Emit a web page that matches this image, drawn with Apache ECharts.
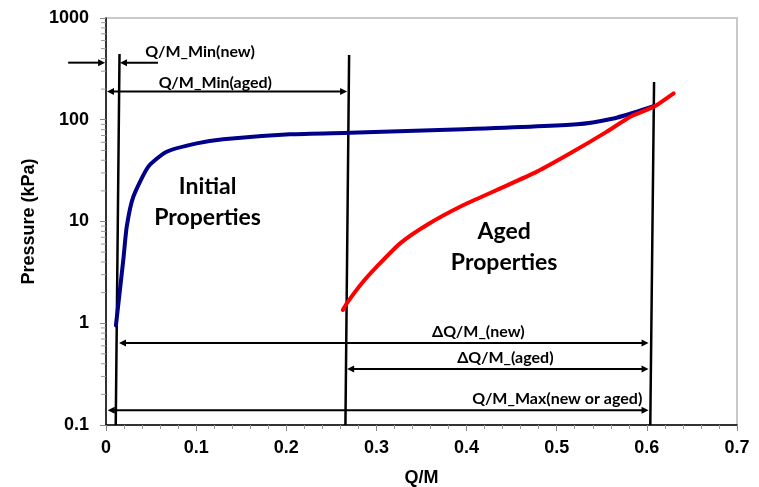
<!DOCTYPE html>
<html>
<head>
<meta charset="utf-8">
<script src="https://cdn.jsdelivr.net/npm/echarts@6/dist/echarts.min.js"></script>
<style>
  html, body { margin: 0; padding: 0; background: #fff; }
  #chart { width: 759px; height: 487px; }
</style>
</head>
<body>
<div id="chart"></div>
<script>
// Initial (new) properties: pressure vs Q/M
const initialQM = [0.011, 0.0192, 0.023, 0.0303, 0.047, 0.0673, 0.1007, 0.130, 0.204, 0.271, 0.3966, 0.5224, 0.563, 0.589, 0.6075];
const initialP  = [0.95, 4.2, 8.9, 17.5, 34.6, 48.5, 58.6, 64.3, 71.9, 74.5, 80.5, 90.2, 103, 120, 136];

// Aged properties: pressure vs Q/M
const agedQM = [0.2627, 0.2671, 0.2838, 0.3004, 0.3263, 0.3559, 0.3966, 0.4336, 0.478, 0.515, 0.5557, 0.5816, 0.6075, 0.6297];
const agedP  = [1.35, 1.57, 2.47, 3.6, 6.1, 9.25, 14.5, 20.4, 30.9, 46.8, 76.4, 107, 134, 182];

// Vertical guide lines (Q/M_Min new, Q/M_Min aged, Q/M_Max)
const guideBottomQM = [0.0108, 0.2656, 0.6038];
const guideTopQM    = [0.015, 0.2697, 0.608];
const guideTopP     = [443, 433, 235];
const guideBottomP  = 0.1;

// Dimension arrows: start Q/M, end Q/M, pressure level, head at start, head at end
const arrowStartQM = [-0.042, 0.0577, 0.0011, 0.0144, 0.2675, 0.0019];
const arrowEndQM   = [-0.001, 0.0155, 0.2675, 0.6019, 0.6019, 0.6019];
const arrowP       = [364, 364, 189, 0.64, 0.355, 0.14];
const arrowHeadStart = [0, 0, 1, 1, 1, 1];
const arrowHeadEnd   = [1, 1, 1, 1, 1, 1];

// Annotation texts and where they sit (in Q/M, pressure)
const noteTexts = ['Q/M_Min(new)', 'Q/M_Min(aged)', '\u0394Q/M_(new)', '\u0394Q/M_(aged)', 'Q/M_Max(new or aged)'];
const noteQM    = [0.1043, 0.1213, 0.413, 0.443, 0.5006];
const noteP     = [463, 228, 0.82, 0.455, 0.18];

const regionTexts = ['Initial\nProperties', 'Aged\nProperties'];
const regionQM    = [0.1127, 0.4417];
const regionP     = [15.4, 5.57];

// Axis settings
const xTicks = { min: 0, max: 0.7, interval: 0.1 };
const yRange = { min: 0.1, max: 1000 };
const logDecades = [0.1, 1, 10, 100];
const logMultipliers = [2, 3, 4, 5, 6, 7, 8, 9];

const minorYTicks = [];
logDecades.forEach(d => logMultipliers.forEach(m => minorYTicks.push(+(d * m).toPrecision(3))));

const initialData = initialQM.map((x, i) => [x, initialP[i]]);
const agedData = agedQM.map((x, i) => [x, agedP[i]]);
const guideData = [];
guideBottomQM.forEach((x, i) => {
  guideData.push([x, guideBottomP]);
  guideData.push([guideTopQM[i], guideTopP[i]]);
  guideData.push([null, null]);
});
const arrowData = arrowStartQM.map((x, i) => [x, arrowEndQM[i], arrowP[i], arrowHeadStart[i], arrowHeadEnd[i]]);
const noteData = noteQM.map((x, i) => [x, noteP[i], i]);
const regionData = regionQM.map((x, i) => [x, regionP[i], i]);

const chart = echarts.init(document.getElementById('chart'), null, { renderer: 'canvas' });

const axisFont = { fontFamily: '"Liberation Sans", Arial, sans-serif', fontWeight: 'bold', fontSize: 18, color: '#000' };
const noteFont = 'bold 16px Lato, "Open Sans", sans-serif';
const regionFont = 'bold 23px Lato, "Open Sans", sans-serif';

function arrowHead(tip, dir, len, half) {
  // dir: unit vector pointing toward the tip
  const bx = tip[0] - dir[0] * len, by = tip[1] - dir[1] * len;
  return {
    type: 'polygon',
    shape: { points: [tip, [bx - dir[1] * half, by + dir[0] * half], [bx + dir[1] * half, by - dir[0] * half]] },
    style: { fill: '#000' }
  };
}

const option = {
  animation: false,
  backgroundColor: '#fff',
  grid: {
    left: 106, right: 22, top: 18, bottom: 62,
    outerBoundsMode: 'none',
    containLabel: false,
    show: true, borderColor: '#b8b8b8', borderWidth: 1.5, backgroundColor: 'transparent'
  },
  xAxis: {
    type: 'value',
    min: xTicks.min, max: xTicks.max, interval: xTicks.interval,
    name: 'Q/M', nameLocation: 'middle', nameGap: 44,
    nameTextStyle: axisFont,
    axisLine: { show: true, onZero: false, lineStyle: { color: '#000', width: 1.5 } },
    axisTick: { show: true, length: 6, lineStyle: { color: '#888' } },
    minorTick: { show: true, splitNumber: 5, length: 4, lineStyle: { color: '#999' } },
    splitLine: { show: false },
    axisLabel: Object.assign({ margin: 14, formatter: v => String(+v.toFixed(1)) }, axisFont)
  },
  yAxis: {
    type: 'log', logBase: 10,
    min: yRange.min, max: yRange.max,
    name: 'Pressure (kPa)', nameLocation: 'middle', nameGap: 62, nameRotate: 90,
    nameTextStyle: axisFont,
    axisLine: { show: true, onZero: false, lineStyle: { color: '#000', width: 1.5 } },
    axisTick: { show: true, length: 6, lineStyle: { color: '#888' } },
    splitLine: { show: false },
    axisLabel: Object.assign({ margin: 17, formatter: v => String(+(+v).toPrecision(3)) }, axisFont)
  },
  series: [
    {
      name: 'Y minor ticks',
      type: 'custom',
      silent: true,
      clip: false,
      data: minorYTicks.map(v => [0, v]),
      encode: { x: 0, y: 1 },
      renderItem: function (params, api) {
        const p = api.coord([xTicks.min, api.value(1)]);
        return {
          type: 'line',
          shape: { x1: p[0] - 5, y1: p[1], x2: p[0], y2: p[1] },
          style: { stroke: '#999', lineWidth: 1 }
        };
      }
    },
    {
      name: 'Guides',
      type: 'line',
      data: guideData,
      showSymbol: false,
      symbol: 'none',
      connectNulls: false,
      clip: false,
      silent: true,
      lineStyle: { color: '#000', width: 2.5 },
      z: 3
    },
    {
      name: 'Initial Properties',
      type: 'line',
      data: initialData,
      symbol: 'none',
      smooth: 0.2,
      lineStyle: { color: '#000088', width: 4, cap: 'round', join: 'round' },
      z: 4
    },
    {
      name: 'Aged Properties',
      type: 'line',
      data: agedData,
      symbol: 'none',
      smooth: 0.2,
      lineStyle: { color: '#ff0000', width: 4, cap: 'round', join: 'round' },
      z: 5
    },
    {
      name: 'Dimension arrows',
      type: 'custom',
      silent: true,
      clip: false,
      data: arrowData,
      encode: { x: [0, 1], y: 2 },
      renderItem: function (params, api) {
        const a = api.coord([api.value(0), api.value(2)]);
        const b = api.coord([api.value(1), api.value(2)]);
        const dx = b[0] - a[0], dy = b[1] - a[1];
        const L = Math.sqrt(dx * dx + dy * dy) || 1;
        const u = [dx / L, dy / L];
        const headLen = 7, half = 3.5;
        const hs = api.value(3), he = api.value(4);
        const s = hs ? [a[0] + u[0] * headLen * 0.8, a[1] + u[1] * headLen * 0.8] : a;
        const e = he ? [b[0] - u[0] * headLen * 0.8, b[1] - u[1] * headLen * 0.8] : b;
        const children = [{
          type: 'line',
          shape: { x1: s[0], y1: s[1], x2: e[0], y2: e[1] },
          style: { stroke: '#000', lineWidth: 2 }
        }];
        if (he) children.push(arrowHead(b, u, headLen, half));
        if (hs) children.push(arrowHead(a, [-u[0], -u[1]], headLen, half));
        return { type: 'group', children: children };
      },
      z: 6
    },
    {
      name: 'Notes',
      type: 'custom',
      silent: true,
      clip: false,
      data: noteData,
      encode: { x: 0, y: 1 },
      renderItem: function (params, api) {
        const p = api.coord([api.value(0), api.value(1)]);
        return {
          type: 'text',
          x: p[0], y: p[1],
          style: { text: noteTexts[api.value(2)], font: noteFont, fill: '#000', align: 'center', verticalAlign: 'middle' }
        };
      },
      z: 7
    },
    {
      name: 'Regions',
      type: 'custom',
      silent: true,
      clip: false,
      data: regionData,
      encode: { x: 0, y: 1 },
      renderItem: function (params, api) {
        const p = api.coord([api.value(0), api.value(1)]);
        return {
          type: 'text',
          x: p[0], y: p[1],
          style: { text: regionTexts[api.value(2)], font: regionFont, lineHeight: 31, fill: '#000', align: 'center', verticalAlign: 'middle' }
        };
      },
      z: 7
    }
  ]
};

chart.setOption(option);
</script>
</body>
</html>
